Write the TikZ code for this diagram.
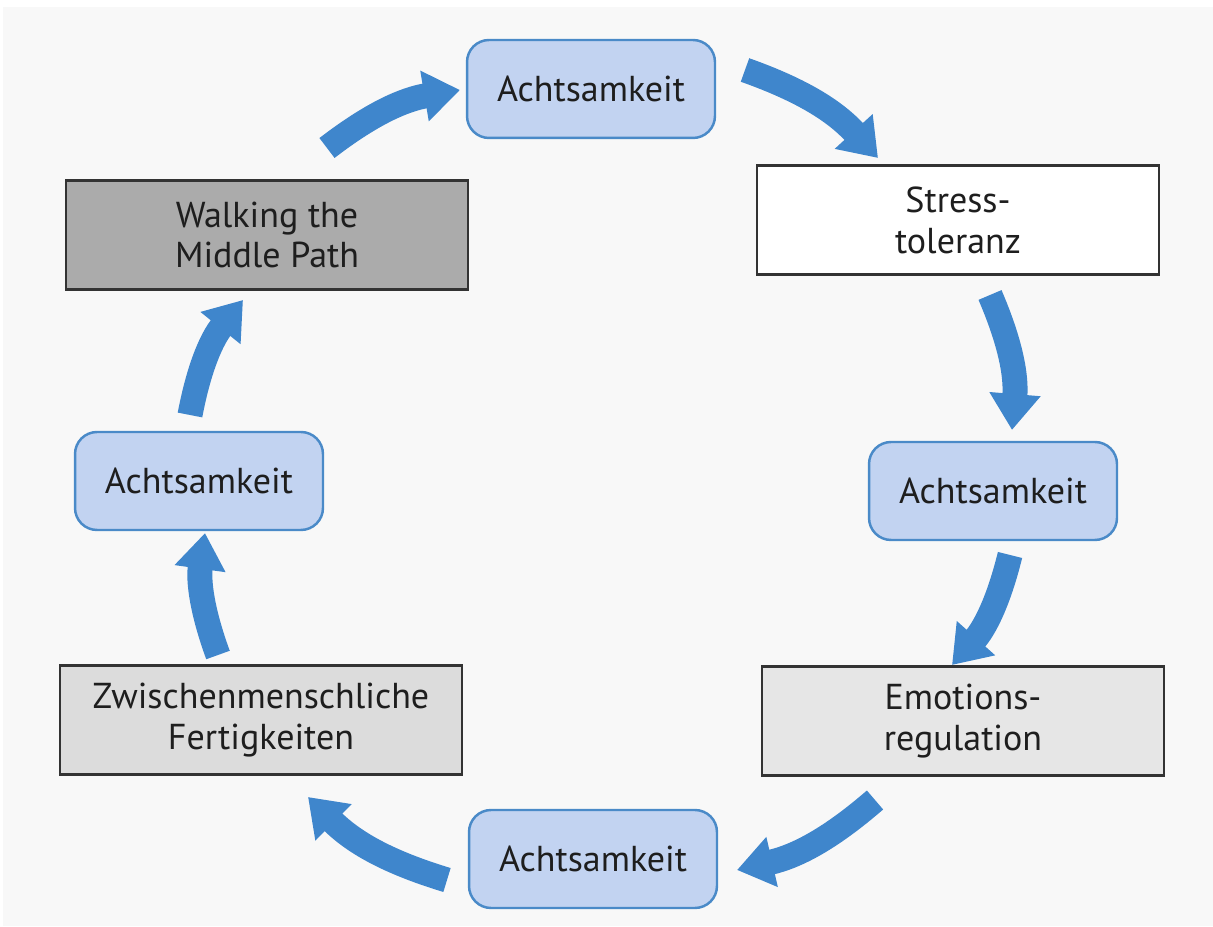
\documentclass[tikz,border=0pt]{standalone}
\usepackage{fontspec}
\setmainfont{PT Sans}
\usetikzlibrary{arrows.meta}
\definecolor{cBg}{HTML}{F8F8F8}
\definecolor{cBlue}{HTML}{C2D3F1}
\definecolor{cBlueLine}{HTML}{4A8AC8}
\definecolor{cArrow}{HTML}{3F86CC}
\definecolor{cDark}{HTML}{ABABAB}
\definecolor{cLight}{HTML}{DCDCDC}
\definecolor{cLighter}{HTML}{E6E6E6}
\definecolor{cText}{HTML}{1E1E1E}
\tikzset{
  mind/.style={rounded corners=0.44cm,draw=cBlueLine,line width=1.4pt,fill=cBlue,
    minimum width=4.96cm,minimum height=1.96cm,inner sep=0pt,text=cText,
    font=\fontsize{20.5}{23.3}\selectfont},
  skill/.style={draw=black!80,line width=1.2pt,minimum width=8.04cm,minimum height=2.18cm,
    inner sep=0pt,align=center,text=cText,font=\fontsize{20.5}{23.3}\selectfont},
  flow/.style={-{Triangle[width=0.98cm,length=0.72cm]},line width=0.5cm,cArrow,bend left=14},
}
\begin{document}
\begin{tikzpicture}[x=0.02cm,y=0.02cm]
\useasboundingbox (0,0) rectangle (1213,926);
\fill[cBg] (3,0) rectangle (1213,919);

% Achtsamkeit between the skills
\node[mind] (achTop)   at (591,837) {Achtsamkeit};
\node[mind] (achRight) at (993,435) {Achtsamkeit};
\node[mind] (achBot)   at (593,67)  {Achtsamkeit};
\node[mind] (achLeft)  at (199,445) {Achtsamkeit};

% skill modules
\node[skill,fill=white]    (stress) at (958,706) {Stress-\\toleranz};
\node[skill,fill=cLighter] (emo)    at (963,205) {Emotions-\\regulation};
\node[skill,fill=cLight]   (inter)  at (261,206) {Zwischenmenschliche\\Fertigkeiten};
\node[skill,fill=cDark]    (middle) at (267,691) {Walking the\\Middle Path};

% arrow ends
\coordinate (t1) at (327,778); \coordinate (h1) at (460,836);
\coordinate (t2) at (745,856); \coordinate (h2) at (878,768);
\coordinate (t3) at (990,631); \coordinate (h3) at (1012,496);
\coordinate (t4) at (1010,371); \coordinate (h4) at (952,261);
\coordinate (t5) at (875,126); \coordinate (h5) at (737,56);
\coordinate (t6) at (447,46);  \coordinate (h6) at (308,129);
\coordinate (t7) at (218,271); \coordinate (h7) at (205,393);
\coordinate (t8) at (190,511); \coordinate (h8) at (243,626);

\foreach \i in {1,...,8}
  \draw[flow] (t\i) to (h\i);
\end{tikzpicture}
\end{document}
